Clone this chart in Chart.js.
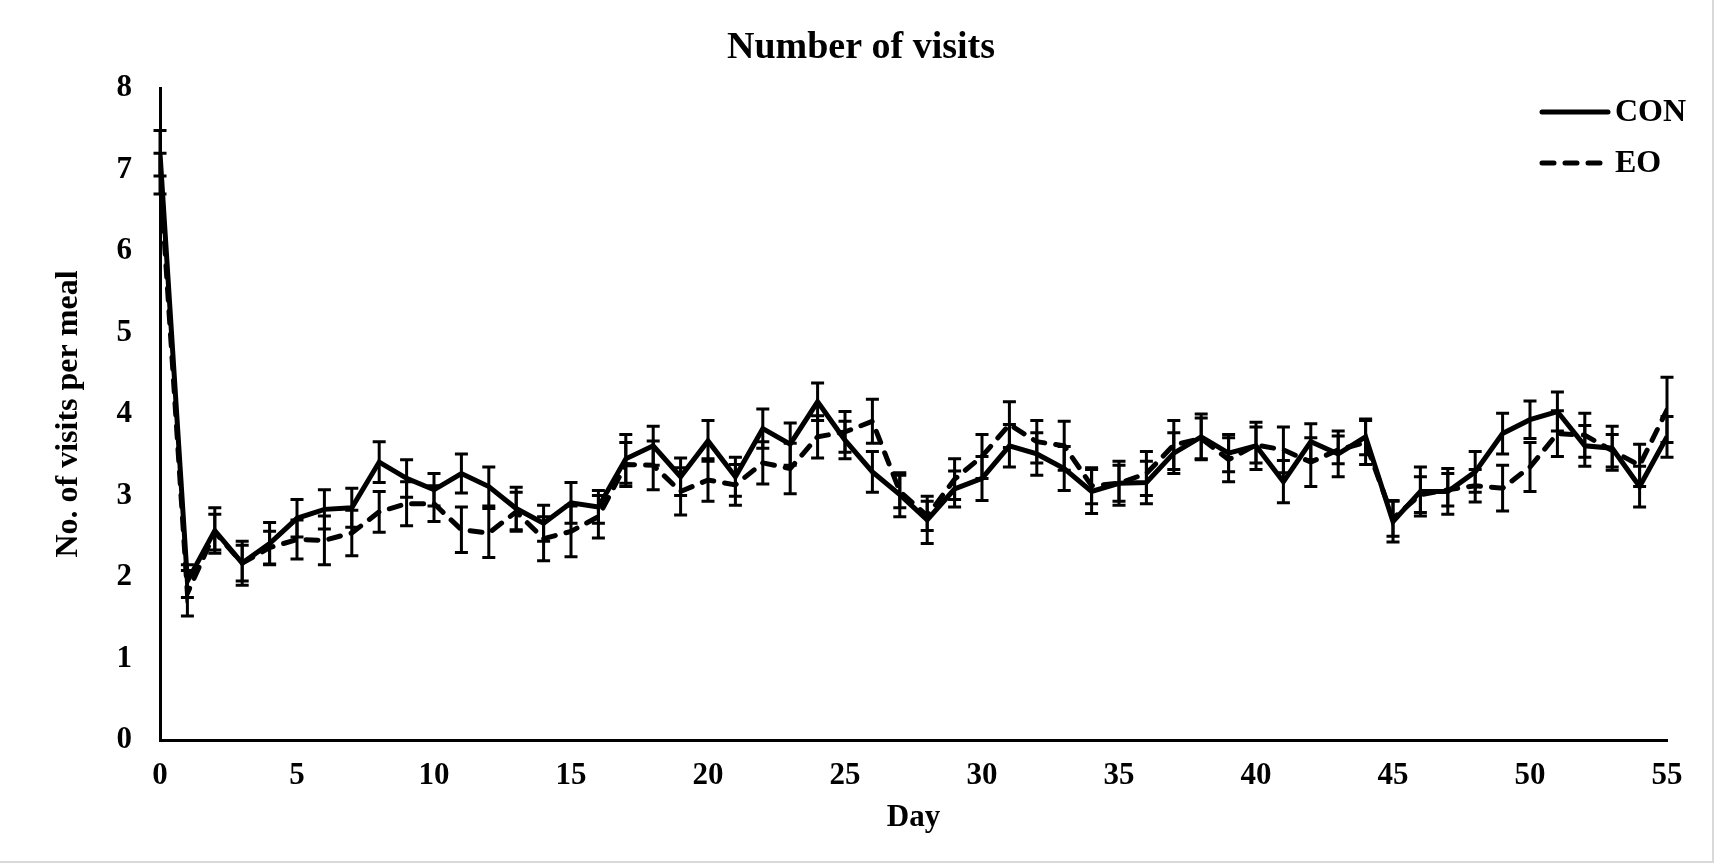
<!DOCTYPE html>
<html>
<head>
<meta charset="utf-8">
<script src="https://cdn.jsdelivr.net/npm/chart.js@4/dist/chart.umd.min.js"></script>
<style>
  html, body { margin: 0; padding: 0; background: #fff; }
  #wrap { width: 1716px; height: 864px; }
</style>
</head>
<body>
<div id="wrap"><canvas id="chart" width="1716" height="864"></canvas></div>
<script>
// values
const days = [0,1,2,3,4,5,6,7,8,9,10,11,12,13,14,15,16,17,18,19,20,21,22,23,24,25,26,27,
  28,29,30,31,32,33,34,35,36,37,38,39,40,41,42,43,44,45,46,47,48,49,50,51,52,53,54,55];

const seriesNames = ['CON', 'EO'];

const conMean = [7.2,1.95,2.57,2.17,2.41,2.72,2.83,2.85,3.41,3.21,3.07,3.27,3.11,2.84,2.66,2.91,
  2.86,3.45,3.61,3.23,3.67,3.23,3.82,3.63,4.15,3.68,3.29,3.01,2.70,3.08,3.21,3.61,3.51,3.33,3.05,
  3.15,3.16,3.52,3.72,3.52,3.61,3.17,3.66,3.51,3.72,2.68,3.05,3.05,3.29,3.76,3.93,4.03,3.61,3.58,
  3.11,3.72];
const conErr = [0.28,0.2,0.28,0.27,0.26,0.23,0.24,0.24,0.25,0.23,0.2,0.24,0.24,0.26,0.22,0.25,
  0.2,0.3,0.24,0.23,0.25,0.24,0.24,0.26,0.23,0.23,0.25,0.27,0.29,0.22,0.27,0.26,0.26,0.27,0.27,
  0.27,0.26,0.25,0.28,0.23,0.29,0.26,0.22,0.28,0.22,0.25,0.3,0.28,0.25,0.25,0.23,0.24,0.25,0.27,
  0.25,0.25];

const eoMean = [6.95,1.8,2.55,2.17,2.36,2.46,2.45,2.54,2.80,2.90,2.90,2.58,2.54,2.80,2.47,2.56,
  2.74,3.38,3.37,3.05,3.19,3.13,3.40,3.33,3.72,3.78,3.91,3.05,2.75,3.20,3.48,3.87,3.66,3.61,3.12,
  3.15,3.27,3.62,3.70,3.44,3.62,3.56,3.41,3.56,3.65,2.72,3.01,3.07,3.12,3.09,3.35,3.76,3.74,3.55,
  3.37,4.05];
const eoErr = [0.25,0.28,0.22,0.22,0.2,0.24,0.3,0.28,0.25,0.27,0.22,0.28,0.3,0.24,0.27,0.31,
  0.26,0.27,0.3,0.29,0.26,0.25,0.26,0.31,0.26,0.25,0.27,0.2,0.18,0.25,0.27,0.28,0.26,0.3,0.22,
  0.22,0.27,0.3,0.25,0.27,0.22,0.28,0.3,0.17,0.27,0.22,0.22,0.2,0.2,0.28,0.3,0.28,0.27,0.2,
  0.26,0.4];

const FONT = "'Times New Roman', 'Liberation Serif', serif";

const toPoints = (means) => days.map((d, i) => ({ x: d, y: means[i] }));

// vertical error bars with caps, placed through the chart scales
const errorBars = {
  id: 'errorBars',
  afterDatasetsDraw(chart) {
    const { ctx, scales: { x, y } } = chart;
    ctx.save();
    ctx.strokeStyle = '#000';
    ctx.lineWidth = 3;
    chart.data.datasets.forEach((ds) => {
      ds.data.forEach((p, i) => {
        const e = ds.errors[i];
        const px = x.getPixelForValue(p.x);
        const top = y.getPixelForValue(p.y + e);
        const bot = y.getPixelForValue(p.y - e);
        ctx.beginPath();
        ctx.moveTo(px, top);
        ctx.lineTo(px, bot);
        ctx.moveTo(px - 6.5, top);
        ctx.lineTo(px + 6.5, top);
        ctx.moveTo(px - 6.5, bot);
        ctx.lineTo(px + 6.5, bot);
        ctx.stroke();
      });
    });
    ctx.restore();
  },
};

// chart title, centred like in the source figure
const topTitle = {
  id: 'topTitle',
  afterDraw(chart) {
    const { ctx } = chart;
    ctx.save();
    ctx.font = `bold 38px ${FONT}`;
    ctx.fillStyle = '#000';
    ctx.textAlign = 'center';
    ctx.textBaseline = 'middle';
    ctx.fillText('Number of visits', 861, 48);
    ctx.restore();
  },
};

// legend in the top right corner of the plot
const cornerLegend = {
  id: 'cornerLegend',
  afterDraw(chart) {
    const { ctx } = chart;
    ctx.save();
    ctx.font = `bold 32px ${FONT}`;
    ctx.fillStyle = '#000';
    ctx.textBaseline = 'middle';
    chart.data.datasets.forEach((ds, i) => {
      const yy = 112 + i * 51;
      ctx.strokeStyle = '#000';
      ctx.lineWidth = 5;
      ctx.lineCap = 'round';
      ctx.setLineDash(ds.borderDash || []);
      ctx.beginPath();
      ctx.moveTo(1542, yy);
      ctx.lineTo(i === 0 ? 1608 : 1600, yy);
      ctx.stroke();
      ctx.setLineDash([]);
      ctx.fillText(ds.label, 1615, yy + 1);
    });
    ctx.restore();
  },
};

// thin frame of the figure
const frame = {
  id: 'frame',
  afterDraw(chart) {
    const { ctx } = chart;
    ctx.save();
    ctx.strokeStyle = '#d9d9d9';
    ctx.lineWidth = 2;
    ctx.beginPath();
    ctx.moveTo(1713, 0);
    ctx.lineTo(1713, 862);
    ctx.lineTo(0, 862);
    ctx.stroke();
    ctx.restore();
  },
};

new Chart(document.getElementById('chart'), {
  type: 'line',
  data: {
    datasets: [
      {
        label: seriesNames[0],
        data: toPoints(conMean),
        errors: conErr,
        borderColor: '#000',
        borderWidth: 5,
        pointRadius: 0,
        tension: 0,
      },
      {
        label: seriesNames[1],
        data: toPoints(eoMean),
        errors: eoErr,
        borderColor: '#000',
        borderWidth: 5,
        borderDash: [12, 11],
        borderCapStyle: 'round',
        pointRadius: 0,
        tension: 0,
      },
    ],
  },
  options: {
    responsive: false,
    animation: false,
    devicePixelRatio: 1,
    layout: { padding: { top: 88, left: 0, right: 49, bottom: 0 } },
    plugins: {
      legend: { display: false },
      tooltip: { enabled: false },
      title: { display: false },
    },
    scales: {
      x: {
        type: 'linear',
        min: 0,
        max: 55,
        grid: { display: false, drawTicks: false, tickLength: 0 },
        border: { display: true, color: '#000', width: 3 },
        ticks: {
          stepSize: 5,
          color: '#000',
          padding: 17,
          maxRotation: 0,
          font: { family: FONT, size: 31, weight: 'bold' },
        },
        title: {
          display: true,
          text: 'Day',
          color: '#000',
          font: { family: FONT, size: 31, weight: 'bold', lineHeight: 1.2 },
          padding: { top: 0, bottom: 27 },
        },
        afterFit(scale) { scale.height = 124; },
      },
      y: {
        min: 0,
        max: 8,
        grid: { display: false, drawTicks: false, tickLength: 0 },
        border: { display: true, color: '#000', width: 3 },
        ticks: {
          stepSize: 1,
          color: '#000',
          padding: 28,
          font: { family: FONT, size: 31, weight: 'bold' },
        },
        title: {
          display: true,
          text: 'No. of visits per meal',
          color: '#000',
          font: { family: FONT, size: 32, weight: 'bold', lineHeight: 1.2 },
          padding: { top: 50, bottom: 0 },
        },
        afterFit(scale) { scale.width = 160; },
      },
    },
  },
  plugins: [errorBars, topTitle, cornerLegend, frame],
});
</script>
</body>
</html>
